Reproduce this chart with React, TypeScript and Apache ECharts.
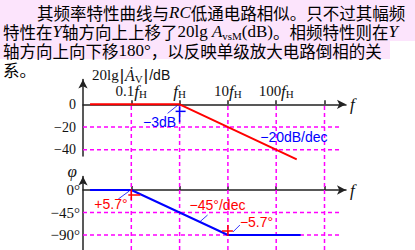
import React, { useEffect, useRef } from 'react';
import * as echarts from 'echarts';

// ---- text paragraph (rich-text lines) ----
const paragraphLines = [
  '{c|其频率特性曲线与}{i|RC}{c|低通电路相似。只不过其幅频}',
  '{c|特性在}{i|Y}{c|轴方向上上移了}{r|20lg }{i|A}{s|vsM}{r|(dB)}{c|。相频特性则在}{i|Y}',
  '{c|轴方向上向下移}{r|180°}{c|，以反映单级放大电路倒相的关}',
  '{c|系。}',
];

// ---- data (frequency as f / fH) ----
const magFreq = [0.014, 1, 266];
const magDb = [0, 0, -48.5];
const phaseFreq = [0.014, 0.1, 10, 321];
const phaseDeg = [0, 0, -90, -90];
const gridFreqs = [0.1, 1, 10, 100, 1000];
const labelFreqs = [0.1, 1, 10, 100];
const labelPrefix = ['0.1', '', '10', '100'];
const magTicks = [0, -20, -40];
const phaseTicks = [0, -45, -90];
const gridEndFreq = 2090;
const annotationTexts = ['−3dB', '−20dB/dec', '+5.7°', '−45°/dec', '−5.7°'];

const SERIF = '"Liberation Serif", "Times New Roman", serif';
const SANS = '"Liberation Sans", Arial, sans-serif';
const CJK = '"Noto Sans CJK SC", sans-serif';
const RED = '#ff0000';
const BLUE = '#0000ff';
const MAGENTA = '#ff00ff';
const AXIS = '#222222';

const X_MIN = 0.01;
const X_MAX = 2786;

const minus = (v: number) => (v < 0 ? '−' + Math.abs(v) : String(v));

export default function App() {
  const ref = useRef<HTMLDivElement>(null);
  useEffect(() => {
    const chart = echarts.init(ref.current!, null, { renderer: 'svg' });
    const axisLine = (onZero: boolean) => ({
      show: true,
      onZero,
      symbol: ['none', 'arrow'],
      symbolSize: [7, 9],
      lineStyle: { color: AXIS, width: 1.5 },
    });
    const gridBase = { left: 83, right: 69, outerBoundsMode: 'none', containLabel: false };
    const xBase = {
      type: 'log',
      logBase: 10,
      min: X_MIN,
      max: X_MAX,
      splitLine: { show: false },
    };
    const dashed = { color: MAGENTA, width: 1.5, type: [4, 3] };

    const xLabelFmt = (v: number) => {
      const i = labelFreqs.findIndex((f) => Math.abs(Math.log10(f) - Math.log10(v)) < 0.01);
      if (i < 0) return '';
      return (labelPrefix[i] ? `{n|${labelPrefix[i]}}` : '') + '{i|f}{s|H}';
    };

    const series: any[] = [];
    magTicks.filter((t) => t !== 0).forEach((t) => {
      series.push({
        type: 'line', xAxisIndex: 0, yAxisIndex: 0, symbol: 'none', silent: true,
        data: [[X_MIN, t], [gridEndFreq, t]], lineStyle: dashed, z: 1,
      });
    });
    phaseTicks.filter((t) => t !== 0).forEach((t) => {
      series.push({
        type: 'line', xAxisIndex: 1, yAxisIndex: 1, symbol: 'none', silent: true,
        data: [[X_MIN, t], [gridEndFreq, t]], lineStyle: dashed, z: 1,
      });
    });
    gridFreqs.forEach((f) => {
      series.push({
        type: 'line', xAxisIndex: 2, yAxisIndex: 2, symbol: 'none', silent: true,
        data: [[f, 0], [f, 1]], lineStyle: dashed, z: 1,
      });
    });
    series.push({
      type: 'line', xAxisIndex: 0, yAxisIndex: 0, symbol: 'none', clip: false, z: 5,
      data: magFreq.map((f, i) => [f, magDb[i]]),
      lineStyle: { color: RED, width: 2 },
    });
    series.push({
      type: 'line', xAxisIndex: 1, yAxisIndex: 1, symbol: 'none', clip: false, z: 5,
      data: phaseFreq.map((f, i) => [f, phaseDeg[i]]),
      lineStyle: { color: BLUE, width: 2 },
    });

    const fName = {
      name: 'f', nameLocation: 'end', nameGap: 4,
      nameTextStyle: { fontFamily: SERIF, fontStyle: 'italic', fontSize: 17, color: '#111', verticalAlign: 'middle', padding: [4, 0, 0, 0] },
    };

    chart.setOption({
      animation: false,
      backgroundColor: '#ffffff',
      grid: [
        { ...gridBase, top: 79.5, height: 76.5 },
        { ...gridBase, top: 176.5, height: 73.5 },
        { ...gridBase, top: 104.3, height: 145.7 },
      ],
      xAxis: [
        {
          ...xBase,
          gridIndex: 0,
          axisLine: axisLine(true),
          axisTick: { show: true, inside: true, length: 4, customValues: gridFreqs, lineStyle: { color: AXIS, width: 1.5 } },
          axisLabel: { show: false },
          ...fName,
        },
        {
          ...xBase,
          gridIndex: 1,
          axisLine: axisLine(true),
          axisTick: { show: true, inside: true, length: 4, customValues: gridFreqs, lineStyle: { color: AXIS, width: 1.5 } },
          axisLabel: { show: false },
          ...fName,
        },
        {
          ...xBase,
          gridIndex: 2,
          position: 'top',
          axisLine: { show: false, onZero: false },
          axisTick: { show: false },
          axisLabel: {
            show: true, margin: 5, customValues: labelFreqs,
            formatter: xLabelFmt,
            rich: {
              n: { fontFamily: SERIF, fontSize: 15, color: '#111', lineHeight: 16 },
              i: { fontFamily: SERIF, fontSize: 17, fontStyle: 'italic', color: '#111', lineHeight: 16 },
              s: { fontFamily: SERIF, fontSize: 11, color: '#111', lineHeight: 8, verticalAlign: 'bottom' },
            },
          },
        },
      ],
      yAxis: [
        {
          type: 'value', gridIndex: 0, min: -45.5, max: 21.9,
          axisLine: axisLine(false),
          axisTick: { show: false },
          splitLine: { show: false },
          axisLabel: {
            customValues: magTicks, formatter: minus, margin: 7,
            fontFamily: SERIF, fontSize: 14, color: '#111',
          },
          name: '{r|20lg}{b||}{a|Ȧ}{v|V}{b||}{d|/dB}',
          nameLocation: 'end', nameGap: 4.5,
          nameTextStyle: {
            align: 'left', verticalAlign: 'middle', padding: [0, 0, 0, 9],
            rich: {
              r: { fontFamily: SERIF, fontSize: 15, color: '#111', lineHeight: 18 },
              b: { fontFamily: SANS, fontSize: 17, color: '#111', lineHeight: 18, padding: [0, 1, 0, 1] },
              a: { fontFamily: SERIF, fontSize: 16, fontStyle: 'italic', color: '#111', lineHeight: 18 },
              v: { fontFamily: SERIF, fontSize: 11, color: '#111', lineHeight: 10, verticalAlign: 'bottom' },
              d: { fontFamily: SANS, fontSize: 14, color: '#111', lineHeight: 18 },
            },
          },
        },
        {
          type: 'value', gridIndex: 1, min: -120, max: 27,
          axisLine: axisLine(false),
          axisTick: { show: false },
          splitLine: { show: false },
          axisLabel: {
            customValues: phaseTicks, formatter: (v: number) => minus(v) + '°', margin: 3,
            fontFamily: SERIF, fontSize: 15, color: '#111',
          },
          name: 'φ', nameLocation: 'end', nameGap: 5,
          nameTextStyle: { align: 'right', verticalAlign: 'middle', padding: [0, 6, 0, 0], fontFamily: SERIF, fontStyle: 'italic', fontSize: 17, color: '#111' },
        },
        { type: 'value', gridIndex: 2, min: 0, max: 1, show: false },
      ],
      series,
    });

    const px = (g: number, f: number, v: number) => chart.convertToPixel({ gridIndex: g } as any, [f, v]) as number[];
    const line = (x1: number, y1: number, x2: number, y2: number, stroke: string, w = 1) => ({
      type: 'line', silent: true, z: 20,
      shape: { x1, y1, x2, y2 }, style: { stroke, lineWidth: w },
    });
    const note = (x: number, y: number, text: string, fill: string, align = 'left') => ({
      type: 'text', silent: true, z: 20, x, y,
      style: { text, fill, fontFamily: SANS, fontSize: 14, align, verticalAlign: 'middle' },
    });

    const aFH = px(0, 1, 0);
    const a100 = px(0, 100, -40);
    const p01 = px(1, 0.1, 0);
    const p1 = px(1, 1, -45);
    const p10 = px(1, 10, -90);

    const cjkRich = {
      c: { fontFamily: CJK, fontSize: 16.5, fill: '#000', lineHeight: 19 },
      i: { fontFamily: SERIF, fontSize: 17, fontStyle: 'italic', fill: '#000', lineHeight: 19 },
      r: { fontFamily: SERIF, fontSize: 17, fill: '#000', lineHeight: 19 },
      s: { fontFamily: SERIF, fontSize: 11, fill: '#000', lineHeight: 10, verticalAlign: 'bottom' },
    };
    const lineStarts = [37, 3, 3, 3];
    const lineYs = [12.5, 31.5, 50.5, 70];

    const graphic: any[] = [
      { type: 'rect', z: 0, silent: true, shape: { x: 0, y: 0, width: 415, height: 41 }, style: { fill: '#fce4fc' } },
      { type: 'rect', z: 0, silent: true, shape: { x: 0, y: 41, width: 390, height: 18 }, style: { fill: '#fce4fc' } },
      ...paragraphLines.map((t, i) => ({
        type: 'text', z: 2, silent: true, x: lineStarts[i], y: lineYs[i],
        style: { text: t, rich: cjkRich, align: 'left', verticalAlign: 'middle' },
      })),
      // -3dB marker
      line(aFH[0], aFH[1] + 2, aFH[0], aFH[1] + 18, BLUE, 1.5),
      line(aFH[0] - 4, aFH[1] + 7, aFH[0] + 6, aFH[1] + 7, BLUE, 1.5),
      line(aFH[0] - 12, aFH[1] + 9, aFH[0] - 2, aFH[1] + 1, BLUE, 0.8),
      note(aFH[0] - 20, aFH[1] + 18, annotationTexts[0], BLUE, 'center'),
      // -20dB/dec
      note(a100[0] - 16, a100[1] - 13, annotationTexts[1], BLUE),
      // +5.7°
      line(p01[0], p01[1] - 1, p01[0], p01[1] + 10, RED, 1.5),
      line(p01[0] - 3, p01[1] + 5, p01[0] + 9, p01[1] + 5, RED, 1.5),
      line(p01[0] - 13, p01[1] + 9, p01[0] - 2, p01[1] + 1, BLUE, 0.8),
      note(p01[0] - 37, p01[1] + 14, annotationTexts[2], RED),
      // -45°/dec
      line(p1[0] + 20, p1[1] + 9.5, p1[0] + 28, p1[1] + 2.5, BLUE, 0.8),
      note(p1[0] + 10, p1[1] - 7.5, annotationTexts[3], RED),
      // -5.7°
      line(p10[0] - 6, p10[1] - 4, p10[0] + 5, p10[1] - 4, RED, 1.5),
      line(p10[0], p10[1] - 10, p10[0], p10[1] + 1, RED, 1.5),
      line(p10[0] + 5, p10[1] - 3, p10[0] + 12, p10[1] - 10, BLUE, 0.8),
      note(p10[0] + 12, p10[1] - 13.5, annotationTexts[4], RED),
    ];
    chart.setOption({ graphic });

    return () => chart.dispose();
  }, []);
  return (
    <div
      ref={ref}
      style={{ position: 'fixed', left: 0, top: 0, width: 415, height: 250, background: '#fff' }}
    />
  );
}
